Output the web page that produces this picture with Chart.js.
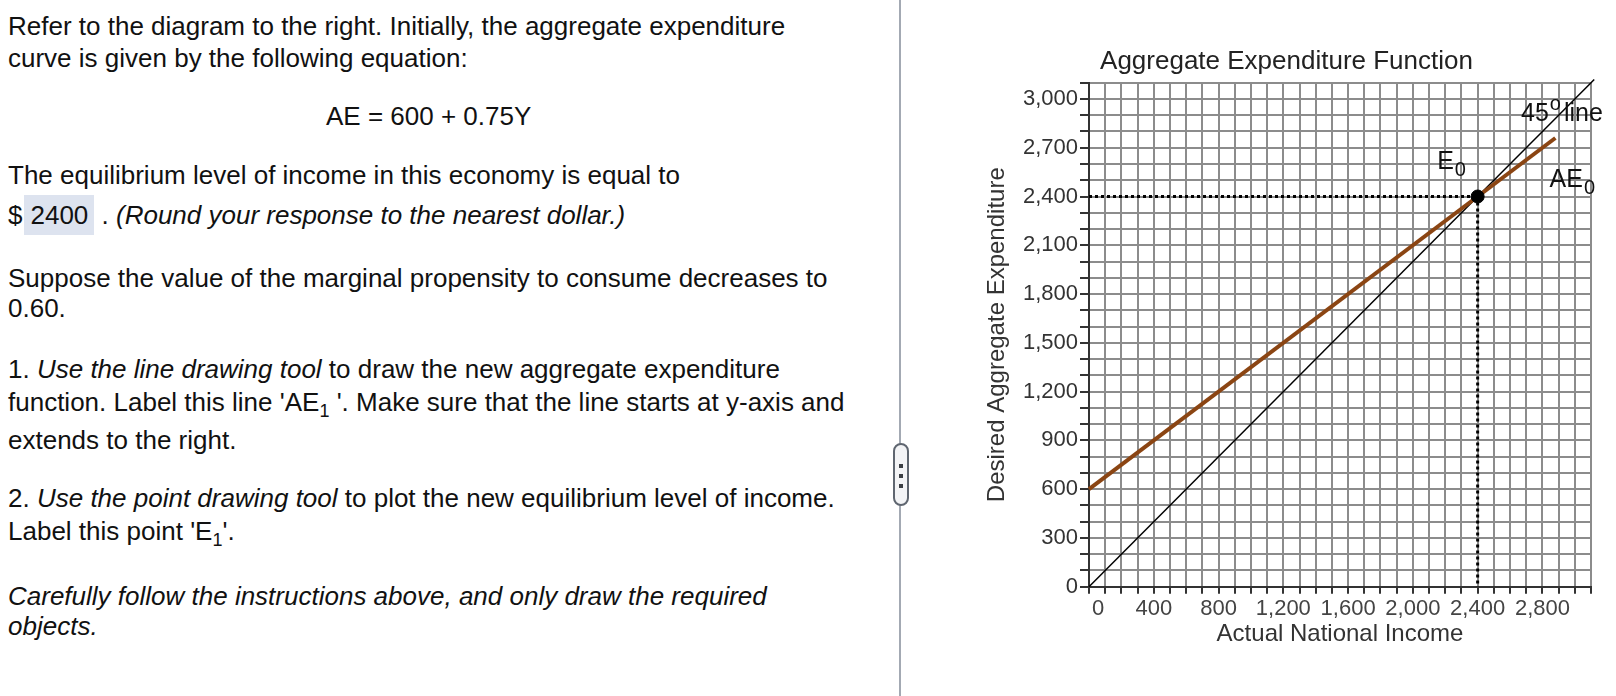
<!DOCTYPE html>
<html>
<head>
<meta charset="utf-8">
<script src="https://cdn.jsdelivr.net/npm/chart.js@4.4.0/dist/chart.umd.min.js"></script>
<style>
  html, body { margin: 0; padding: 0; background: #fff; }
  body { width: 1616px; height: 696px; position: relative; overflow: hidden;
         font-family: "Liberation Sans", Arial, sans-serif; color: #111; }
  .ln { position: absolute; left: 8px; font-size: 26px; line-height: 30px; white-space: nowrap; }
  .ln sub { font-size: 18px; vertical-align: -6px; line-height: 0; }
  .ans { background: #dde3ef; padding: 5px 6px 5px 6px; margin-left: 2px; }
  #divider { position: absolute; left: 899px; top: 0; width: 2px; height: 696px; background: #a3a9b3; }
  #pill { position: absolute; left: 893px; top: 443px; width: 12px; height: 59px; background: #f3f4f6;
          border: 2px solid #5f6670; border-radius: 8px; }
  #pill i { position: absolute; left: 4px; width: 4px; height: 4px; background: #3b3f45; }
  #wrap { position: absolute; left: 982px; top: 0; width: 634px; height: 696px; }
</style>
</head>
<body>
<div class="ln" style="top:11px">Refer to the diagram to the right. Initially, the aggregate expenditure</div>
<div class="ln" style="top:43px">curve is given by the following equation:</div>
<div class="ln" style="top:101px;left:326px">AE = 600 + 0.75Y</div>
<div class="ln" style="top:160px">The equilibrium level of income in this economy is equal to</div>
<div class="ln" style="top:200px">$<span class="ans">2400</span> . <i>(Round your response to the nearest dollar.)</i></div>
<div class="ln" style="top:263px">Suppose the value of the marginal propensity to consume decreases to</div>
<div class="ln" style="top:293px">0.60.</div>
<div class="ln" style="top:354px">1. <i>Use the line drawing tool</i> to draw the new aggregate expenditure</div>
<div class="ln" style="top:387px">function. Label this line 'AE<sub>1</sub> '. Make sure that the line starts at y-axis and</div>
<div class="ln" style="top:425px">extends to the right.</div>
<div class="ln" style="top:483px">2. <i>Use the point drawing tool</i> to plot the new equilibrium level of income.</div>
<div class="ln" style="top:516px">Label this point 'E<sub>1</sub>'.</div>
<div class="ln" style="top:581px"><i>Carefully follow the instructions above, and only draw the required</i></div>
<div class="ln" style="top:611px"><i>objects.</i></div>

<div id="divider"></div>
<div id="pill"><i style="top:19px"></i><i style="top:29px"></i><i style="top:39px"></i></div>

<div id="wrap"><canvas id="grafico"></canvas></div>

<script>
// ticks
const incomeTicks = [0, 400, 800, 1200, 1600, 2000, 2400, 2800];
const expenditureTicks = [0, 300, 600, 900, 1200, 1500, 1800, 2100, 2400, 2700, 3000];

// lines and points
const line45X = [0, 3120];
const line45Y = [0, 3120];
const ae0X = [0, 2880];
const ae0Y = [600, 2760];
const eqX = [2400];
const eqY = [2400];

function pts(xs, ys) {
  return xs.map((x, i) => ({ x: x, y: ys[i] }));
}

const guideH = pts([0, eqX[0]], [eqY[0], eqY[0]]);
const guideV = pts([eqX[0], eqX[0]], [eqY[0], 0]);

// text labels on the graph: [text, sub, sup, x, y]
const etiquetas = [
  ['E', '0', '', 2150, 2572],
  ['45', '', 'o', 2668, 2862],
  ['AE', '0', '', 2844, 2461]
];

const labelPlugin = {
  id: 'labels',
  afterDatasetsDraw(chart) {
    const ctx = chart.ctx;
    const sx = chart.scales.x, sy = chart.scales.y;
    ctx.save();
    ctx.fillStyle = '#111';
    ctx.textBaseline = 'alphabetic';
    ctx.textAlign = 'left';
    etiquetas.forEach(e => {
      const px = sx.getPixelForValue(e[3]);
      const py = sy.getPixelForValue(e[4]);
      ctx.font = '25px "Liberation Sans", Arial';
      ctx.fillText(e[0], px, py);
      const w = ctx.measureText(e[0]).width;
      if (e[1]) {
        ctx.font = '20px "Liberation Sans", Arial';
        ctx.fillText(e[1], px + w + 1, py + 7);
      }
      if (e[2]) {
        ctx.font = '20px "Liberation Sans", Arial';
        ctx.fillText(e[2], px + w + 1, py - 11);
        const w2 = ctx.measureText(e[2]).width;
        ctx.font = '25px "Liberation Sans", Arial';
        ctx.fillText('line', px + w + w2 + 4, py);
      }
    });
    ctx.restore();
  }
};

new Chart(document.getElementById('grafico'), {
  type: 'scatter',
  data: {
    datasets: [
      { data: pts(eqX, eqY), pointRadius: 6.5, backgroundColor: '#000', borderColor: '#000', showLine: false },
      { data: pts(ae0X, ae0Y), showLine: true, borderColor: '#8B4513', borderWidth: 4, pointRadius: 0, clip: false },
      { data: guideH, showLine: true, borderColor: '#000', borderWidth: 3, borderDash: [3, 3], pointRadius: 0 },
      { data: guideV, showLine: true, borderColor: '#000', borderWidth: 3, borderDash: [3, 3], pointRadius: 0 },
      { data: pts(line45X, line45Y), showLine: true, borderColor: '#000', borderWidth: 1.5, pointRadius: 0, clip: false }
    ]
  },
  options: {
    responsive: true,
    maintainAspectRatio: false,
    animation: false,
    layout: { padding: { left: 0, right: 25, top: 0, bottom: 0 } },
    plugins: {
      legend: { display: false },
      tooltip: { enabled: false },
      title: {
        display: true,
        text: 'Aggregate Expenditure Function',
        color: '#222',
        font: { family: '"Liberation Sans", Arial', size: 26, weight: 'normal' },
        padding: { top: 46, bottom: 5.5 }
      }
    },
    scales: {
      x: {
        type: 'linear',
        min: 0, max: 3100,
        afterFit: s => { s.height = 109.3; },
        border: { color: '#333', width: 2 },
        grid: { color: '#8c8c8c', lineWidth: 2, tickColor: '#333', tickLength: 7, tickWidth: 2 },
        ticks: {
          stepSize: 100, autoSkip: false, maxRotation: 0, padding: 2,
          color: '#444', font: { family: '"Liberation Sans", Arial', size: 22 },
          callback: v => incomeTicks.includes(v) ? (v === 0 ? '   0' : v.toLocaleString('en-US')) : ''
        },
        title: {
          display: true, text: 'Actual National Income', color: '#333',
          font: { family: '"Liberation Sans", Arial', size: 24 },
          padding: { top: 0, bottom: 47 }
        }
      },
      y: {
        type: 'linear',
        min: 0, max: 3100,
        afterFit: s => { s.width = 107; },
        border: { color: '#333', width: 2 },
        grid: { color: '#8c8c8c', lineWidth: 2, tickColor: '#333', tickLength: 9, tickWidth: 2 },
        ticks: {
          stepSize: 100, autoSkip: false, padding: 2,
          color: '#333', font: { family: '"Liberation Sans", Arial', size: 22 },
          callback: v => expenditureTicks.includes(v) ? v.toLocaleString('en-US') : ''
        },
        title: {
          display: true, text: 'Desired Aggregate Expenditure', color: '#333',
          font: { family: '"Liberation Sans", Arial', size: 24 },
          padding: { top: 1, bottom: 0 }
        }
      }
    }
  },
  plugins: [labelPlugin]
});
</script>
</body>
</html>
